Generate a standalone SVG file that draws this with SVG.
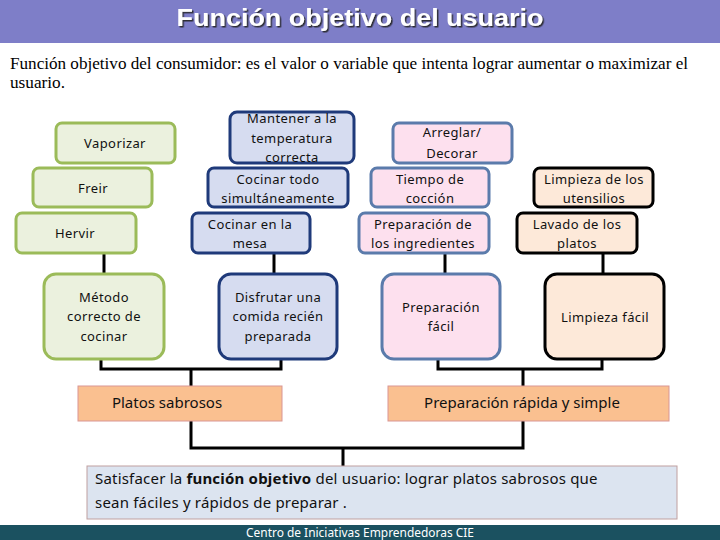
<svg xmlns="http://www.w3.org/2000/svg" width="720" height="540" viewBox="0 0 720 540">
<defs>
<filter id="sh" x="-5%" y="-20%" width="110%" height="150%"><feDropShadow dx="1.5" dy="1.5" stdDeviation="0.6" flood-color="#222" flood-opacity="0.9"/></filter>
</defs>
<style>
.t{font-family:"Noto Sans","Liberation Sans",sans-serif;font-size:13px;letter-spacing:0.4px;fill:#111;text-anchor:middle}
.g{fill:#ebf1de;stroke:#9bbb59;stroke-width:3}
.b{fill:#d6dcf0;stroke:#1f3a7a;stroke-width:3}
.p{fill:#fde0ee;stroke:#5b7bab;stroke-width:3}
.k{fill:#fde9d9;stroke:#000;stroke-width:3}
.o{fill:#fac090;stroke:#d99694;stroke-width:1}
.big{font-family:"Noto Sans","Liberation Sans",sans-serif;font-size:15px;fill:#111;text-anchor:middle}
.f{font-family:"Noto Sans","Liberation Sans",sans-serif;font-size:15px;letter-spacing:0.2px;fill:#111}
#connectors path{fill:none;stroke:#000;stroke-width:3}
</style>
<rect x="0" y="0" width="720" height="43" fill="#7e7ec8"/>
<text x="360" y="26" font-family="Liberation Sans,Arial,sans-serif" font-weight="bold" font-size="24" fill="#fff" text-anchor="middle" textLength="367" lengthAdjust="spacingAndGlyphs" filter="url(#sh)">Función objetivo del usuario</text>
<text x="10" y="69" font-family="Liberation Serif,serif" font-size="16" fill="#000" textLength="678" lengthAdjust="spacingAndGlyphs">Función objetivo del consumidor: es el valor o variable que intenta lograr aumentar o maximizar el</text>
<text x="10" y="88" font-family="Liberation Serif,serif" font-size="16" fill="#000" textLength="55" lengthAdjust="spacingAndGlyphs">usuario.</text>

<g id="connectors">
<path d="M104 253V274"/>
<path d="M274 253V274"/>
<path d="M445 253V274"/>
<path d="M603 253V274"/>
<path d="M101 359V369H281V359M191 369V386"/>
<path d="M438 359V369H602V359M523 369V386"/>
<path d="M191 421V448H523V421M343 448V466"/>
</g>

<g id="vaporizar"><rect class="g" x="56" y="123" width="119" height="40" rx="6"/><text class="t" x="115" y="148">Vaporizar</text></g>
<g id="freir"><rect class="g" x="33" y="168" width="119" height="39" rx="6"/><text class="t" x="93" y="193">Freir</text></g>
<g id="hervir"><rect class="g" x="16" y="213" width="120" height="40" rx="6"/><text class="t" x="75" y="238">Hervir</text></g>

<g id="mantener"><rect class="b" x="230" y="112" width="124" height="51" rx="7"/><text class="t" x="292" y="123">Mantener a la</text><text class="t" x="292" y="143">temperatura</text><text class="t" x="292" y="162">correcta</text></g>
<g id="cocinar-todo"><rect class="b" x="208" y="168" width="140" height="39" rx="6"/><text class="t" x="278" y="184">Cocinar todo</text><text class="t" x="278" y="203">simultáneamente</text></g>
<g id="cocinar-mesa"><rect class="b" x="192" y="213" width="118" height="40" rx="6"/><text class="t" x="250" y="229">Cocinar en la</text><text class="t" x="250" y="248">mesa</text></g>

<g id="arreglar"><rect class="p" x="393" y="123" width="119" height="40" rx="6"/><text class="t" x="452" y="137">Arreglar/</text><text class="t" x="452" y="158">Decorar</text></g>
<g id="tiempo"><rect class="p" x="371" y="168" width="118" height="39" rx="6"/><text class="t" x="430" y="184">Tiempo de</text><text class="t" x="430" y="203">cocción</text></g>
<g id="ingredientes"><rect class="p" x="359" y="213" width="130" height="40" rx="6"/><text class="t" x="423" y="229">Preparación de</text><text class="t" x="423" y="248">los ingredientes</text></g>

<g id="utensilios"><rect class="k" x="534" y="168" width="119" height="39" rx="6"/><text class="t" x="594" y="184">Limpieza de los</text><text class="t" x="594" y="203">utensilios</text></g>
<g id="lavado"><rect class="k" x="517" y="213" width="120" height="40" rx="6"/><text class="t" x="577" y="229">Lavado de los</text><text class="t" x="577" y="248">platos</text></g>

<g id="metodo"><rect class="g" x="44" y="274" width="120" height="85" rx="12"/><text class="t" x="104" y="302">Método</text><text class="t" x="104" y="321">correcto de</text><text class="t" x="104" y="341">cocinar</text></g>
<g id="disfrutar"><rect class="b" x="219" y="274" width="118" height="85" rx="12"/><text class="t" x="278" y="302">Disfrutar una</text><text class="t" x="278" y="321">comida recién</text><text class="t" x="278" y="341">preparada</text></g>
<g id="prep-facil"><rect class="p" x="382" y="274" width="118" height="85" rx="12"/><text class="t" x="441" y="312">Preparación</text><text class="t" x="441" y="331">fácil</text></g>
<g id="limpieza-facil"><rect class="k" x="545" y="274" width="119" height="85" rx="12"/><text class="t" x="605" y="322">Limpieza fácil</text></g>

<g id="platos-sabrosos"><rect class="o" x="78" y="386" width="204" height="35"/><text class="big" x="167" y="408">Platos sabrosos</text></g>
<g id="prep-rapida"><rect class="o" x="388" y="386" width="281" height="35"/><text class="big" x="522" y="408">Preparación rápida y simple</text></g>

<g id="objetivo"><rect x="87" y="466" width="590" height="53" fill="#dce4f0" stroke="#c0a0a0" stroke-width="1"/>
<text class="f" x="95" y="484">Satisfacer la <tspan font-weight="bold">función objetivo</tspan> del usuario: lograr platos sabrosos que</text>
<text class="f" x="95" y="508">sean fáciles y rápidos de preparar .</text></g>

<rect x="0" y="525" width="720" height="15" fill="#1b5160"/>
<text x="360" y="537" font-family="Noto Sans,Liberation Sans,sans-serif" font-size="12" fill="#fff" text-anchor="middle" textLength="228" lengthAdjust="spacingAndGlyphs">Centro de Iniciativas Emprendedoras CIE</text>
</svg>
